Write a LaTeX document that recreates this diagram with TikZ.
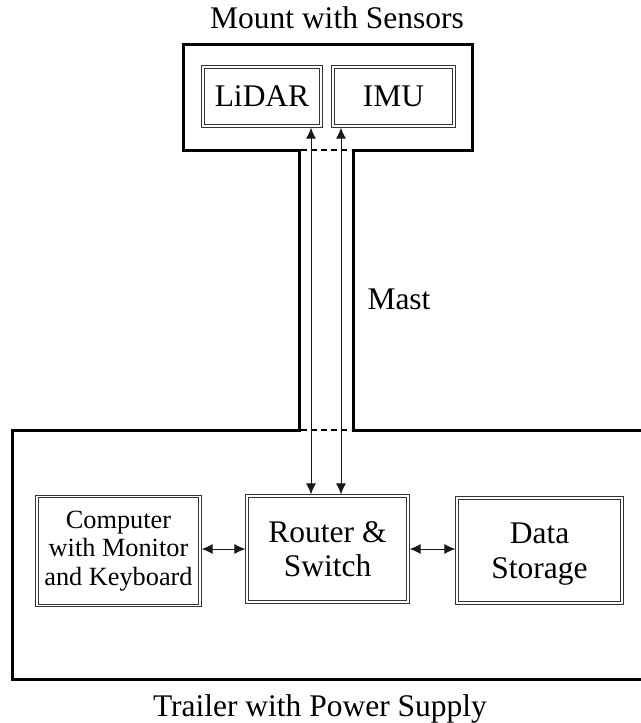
\documentclass[tikz,border=0pt]{standalone}
\usepackage{fontspec}
\setmainfont{Liberation Serif}
\usetikzlibrary{arrows.meta}
\begin{document}
\begin{tikzpicture}[x=1pt,y=-1pt,
  box/.style={draw=black!80, double=white, double distance=1.6pt, line width=0.8pt,
    outer sep=1.6pt, inner sep=0pt, align=center, font=\fontsize{31.5}{34.5}\selectfont},
  smallbox/.style={box, font=\fontsize{26.3}{28.5}\selectfont},
  lbl/.style={inner sep=0pt, anchor=base, font=\fontsize{31.5}{34}\selectfont},
  wall/.style={line width=3pt, line join=miter},
  gapline/.style={line width=1.1pt, dash pattern=on 6pt off 4pt},
  arr/.style={line width=1pt, draw=black!90,
    {Latex[length=11pt,width=10pt]}-{Latex[length=11pt,width=10pt]}}]
\useasboundingbox (0,0) rectangle (640,723);
% enclosures
\draw[wall] (645,430) -- (353,430) -- (353,150) -- (472,150) -- (472,44) -- (183,44)
  -- (183,150) -- (299,150) -- (299,430) -- (12,430) -- (12,679) -- (645,679);
\draw[gapline] (301,150) -- (351,150);
\draw[gapline] (301,430) -- (351,430);
% labels
\node[lbl] (mountlbl) at (337,28) {Mount with Sensors};
\node[lbl] (mastlbl) at (399,309) {Mast};
\node[lbl] (trailerlbl) at (320,716) {Trailer with Power Supply};
% boxes
\node[box, minimum width=118, minimum height=59] (lidar) at (262,96.5) {LiDAR};
\node[box, minimum width=121, minimum height=59] (imu) at (393.5,96.5) {IMU};
\node[smallbox, minimum width=163, minimum height=109] (computer) at (118.5,551)
  {Computer\\with Monitor\\and Keyboard};
\node[box, minimum width=161, minimum height=106] (router) at (327.5,549) {Router \&\\Switch};
\node[box, minimum width=165, minimum height=105, text depth=-4pt] (storage) at (539.5,550.5) {Data\\Storage};
% connectors
\coordinate (xa) at (311,0);
\coordinate (xb) at (341,0);
\draw[arr] (lidar.south -| xa) -- (router.north -| xa);
\draw[arr] (imu.south -| xb) -- (router.north -| xb);
\draw[arr] (computer.east |- router.west) -- (router.west);
\draw[arr] (router.east) -- (storage.west |- router.east);
\end{tikzpicture}
\end{document}
